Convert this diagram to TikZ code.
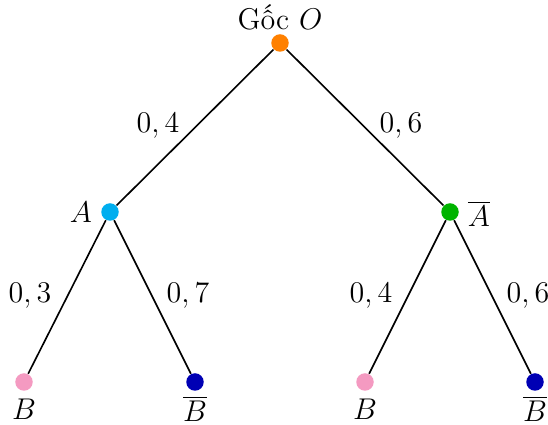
\documentclass[tikz,border=0pt]{standalone}
\usepackage{fontspec}
\definecolor{cO}{RGB}{255,128,0}
\definecolor{cA}{RGB}{0,174,239}
\definecolor{cAb}{RGB}{0,180,0}
\definecolor{cB}{RGB}{244,154,193}
\definecolor{cBb}{RGB}{0,0,180}
\tikzset{
  dot/.style={circle,fill=#1,inner sep=0pt,minimum size=7pt},
  edge/.style={draw=black,line width=0.65pt},
  lbl/.style={font=\fontsize{12}{14}\selectfont}
}
\begin{document}
\begin{tikzpicture}[x=0.4pt,y=-0.4pt]
\useasboundingbox (0,0) rectangle (548,425);
\node[dot=cO] (O) at (280,43) {};
\node[dot=cA] (A) at (110,212) {};
\node[dot=cAb] (Ab) at (450,212) {};
\node[dot=cB] (B1) at (24,382) {};
\node[dot=cBb] (B2) at (195,382) {};
\node[dot=cB] (B3) at (365,382) {};
\node[dot=cBb] (B4) at (535,382) {};
\begin{scope}[on background layer/.try]
\end{scope}
\draw[edge] (O) -- (A);
\draw[edge] (O) -- (Ab);
\draw[edge] (A) -- (B1);
\draw[edge] (A) -- (B2);
\draw[edge] (Ab) -- (B3);
\draw[edge] (Ab) -- (B4);
\node[lbl] (tO) at (280,17) {Gốc $O$};
\node[lbl] (tA) at (81,212) {$A$};
\node[lbl] (tAb) at (479,214) {$\overline{A}$};
\node[lbl] (t1) at (24,409) {$B$};
\node[lbl] (t2) at (195,409) {$\overline{B}$};
\node[lbl] (t3) at (365,409) {$B$};
\node[lbl] (t4) at (535,409) {$\overline{B}$};
\node[lbl] (e1) at (158,126) {$0,4$};
\node[lbl] (e2) at (401,126) {$0,6$};
\node[lbl] (e3) at (30,296) {$0,3$};
\node[lbl] (e4) at (188,296) {$0,7$};
\node[lbl] (e5) at (371,296) {$0,4$};
\node[lbl] (e6) at (528,296) {$0,6$};
\end{tikzpicture}
\end{document}
